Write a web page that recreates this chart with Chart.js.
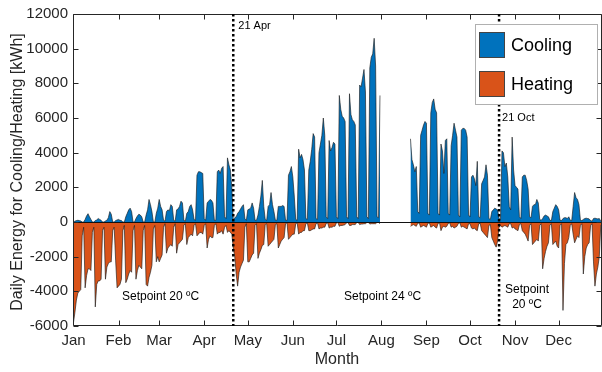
<!DOCTYPE html>
<html><head><meta charset="utf-8">
<script src="https://cdn.jsdelivr.net/npm/chart.js@4/dist/chart.umd.min.js"></script>
<style>html,body{margin:0;padding:0;background:#fff;overflow:hidden;}#wrap{width:602px;height:372px;position:relative;}</style>
</head><body><div id="wrap"><canvas id="c" width="602" height="372"></canvas></div>
<script>
const monthNames = ['Jan','Feb','Mar','Apr','May','Jun','Jul','Aug','Sep','Oct','Nov','Dec'];
const monthStartDays = [1,32,60,91,121,152,182,213,244,274,305,335];
const yTicks = [-6000,-4000,-2000,0,2000,4000,6000,8000,10000,12000];

// Daily cooling energy [kWh] per month (null = no data)
const coolJan = [0,50,80,100,80,60,0, 0,150,350,480,300,150,0, 0,80,120,200,150,100,0, 0,60,100,250,600,450,0, 0,80,120];
const coolFeb = [150,100,80,0,0,300,500,700,800,600,0,0,200,350,450,400,300,0,0,400,700,1300,1000,600,0,0,500,800];
const coolMar = [1300,900,700,100,50,600,700,650,1000,900,100,50,700,750,900,1200,1100,100,50,500,600,900,1000,700,150,100,2700,2900,2900,2850,2800];
const coolApr = [200,100,1100,1200,1300,1250,1100,100,100,2900,3000,2800,3100,3200,300,200,3700,3300,3000,2000,100,250,300,500,600,750,900,1000,200,100];
const coolMay = [700,750,800,1100,800,100,100,400,900,1500,2400,900,150,100,900,1000,1700,1000,600,100,100,900,900,900,950,900,100,100,2700,2900,3200];
const coolJun = [2600,1500,150,100,4200,3700,3900,3600,3000,200,150,3000,3500,4200,5100,4900,200,150,4000,4500,5000,6000,5000,300,200,4700,4100,4300,4600,4500];
const coolJul = [300,200,7300,6500,6100,6000,5800,300,200,7400,6200,5900,5800,5600,300,200,7900,7800,8300,8800,7500,300,200,8900,9500,9700,10600,9000,300,250,7300];
const coolAug = [null,null,null,null,null,null,null,null,null,null,null,null,null,null,null,null,null,null,null,null,4800,3600,3300,2900,3200,600,500,5000,5300,5600,5800];
const coolSep = [5700,500,400,6300,6900,7100,6500,6300,500,400,4500,4100,2800,4700,4800,500,400,4400,5000,5700,5300,4900,400,300,5300,5400,5400,5300,4900,400];
const coolOct = [300,2600,2700,2500,2100,3500,300,250,2200,2400,2600,3300,2700,200,150,600,700,800,750,700,200,150,4100,4000,3200,3400,2600,900,700,4900,3000];
const coolNov = [2100,2000,1900,300,200,2600,2700,2700,2400,1900,300,250,900,1000,1000,1300,1100,150,100,200,350,400,350,300,100,80,600,800,1000,900];
const coolDec = [700,100,80,200,250,250,200,300,100,80,900,1700,1400,1300,1000,100,80,150,200,220,200,180,80,50,200,220,200,180,200,50,30];

// Daily heating energy [kWh] per month (negative values)
const heatJan = [-5800,-5200,-4500,-4100,-4000,-3900,-800,-300,-3800,-3100,-2700,-2700,-2800,-600,-300,-4900,-3600,-3400,-3400,-3300,-500,-300,-3300,-2600,-2400,-2300,-2300,-500,-300,-2200,-3800];
const heatFeb = [-3700,-3600,-3300,-500,-200,-3500,-3300,-3000,-2800,-2900,-500,-200,-3300,-2800,-2500,-2600,-2700,-500,-200,-3600,-3700,-3200,-2900,-2500,-400,-200,-2300,-2000];
const heatMar = [-2300,-2100,-1900,-300,-100,-1800,-1500,-1400,-1300,-1400,-300,-100,-1800,-1300,-1200,-1100,-1000,-200,-100,-1300,-900,-800,-700,-800,-200,-100,-800,-700,-600,-600,-700];
const heatApr = [-200,-100,-1500,-1000,-800,-900,-900,-200,-100,-700,-600,-600,-500,-700,-300,-200,-600,-500,-600,-700,-1500,-2000,-3000,-3700,-2900,-2600,-2400,-2200,-300,-100];
const heatMay = [-2300,-2300,-2100,-1900,-1800,-200,-100,-2100,-1800,-1600,-1350,-1300,-150,-100,-1400,-1300,-1200,-1100,-1000,-150,-100,-1500,-1300,-1100,-1000,-900,-100,-50,-1000,-900,-800];
const heatJun = [-700,-700,-100,-50,-700,-600,-600,-500,-500,-100,-50,-500,-500,-450,-400,-400,-100,-50,-400,-350,-350,-300,-300,-80,-50,-350,-300,-300,-250,-250];
const heatJul = [-50,-30,-250,-200,-200,-180,-150,-50,-30,-200,-200,-150,-150,-150,-30,-20,-150,-120,-120,-100,-100,-30,-20,-120,-100,-100,-100,-100,-20,-20,-100];
const heatAug = [null,null,null,null,null,null,null,null,null,null,null,null,null,null,null,null,null,null,null,null,-250,-200,-150,-200,-250,-80,-50,-300,-250,-200,-250];
const heatSep = [-300,-80,-50,-300,-250,-200,-300,-350,-80,-50,-500,-300,-250,-300,-250,-80,-50,-300,-250,-350,-300,-250,-80,-50,-300,-250,-300,-350,-400,-100];
const heatOct = [-100,-350,-400,-350,-450,-500,-100,-80,-500,-600,-700,-800,-900,-200,-150,-900,-1100,-1300,-1450,-1100,-300,-200,-300,-250,-200,-250,-300,-100,-100,-350,-300];
const heatNov = [-400,-450,-500,-150,-100,-500,-600,-700,-900,-1100,-200,-100,-1300,-1200,-1100,-1000,-1100,-200,-100,-2700,-2100,-1700,-1400,-1200,-200,-100,-1300,-1200,-1100,-1400];
const heatDec = [-1500,-200,-100,-5100,-2400,-1300,-1200,-900,-200,-100,-700,-1200,-1000,-800,-900,-200,-100,-3000,-2000,-1500,-1300,-1200,-200,-100,-2300,-3700,-3000,-2600,-2000,-200,-100];

const cooling = [].concat(coolJan,coolFeb,coolMar,coolApr,coolMay,coolJun,coolJul,coolAug,coolSep,coolOct,coolNov,coolDec);
const heating = [].concat(heatJan,heatFeb,heatMar,heatApr,heatMay,heatJun,heatJul,heatAug,heatSep,heatOct,heatNov,heatDec);
const dayNumbers = cooling.map((_, i) => i + 1);

const markerDays = [111, 294];
const markerLabels = ['21 Apr', '21 Oct'];
const seriesNames = ['Cooling', 'Heating'];
const seriesColors = ['#0072BD', '#D95319'];

const FONT = '"Liberation Sans", Arial, Helvetica, sans-serif';
const TXT = '#262626';

const deco = {
  id: 'deco',
  afterDatasetsDraw(chart) {
    const {ctx, chartArea: a, scales: {x, y}} = chart;
    ctx.save();
    const y0 = Math.round(y.getPixelForValue(0)) + 0.5;
    ctx.strokeStyle = '#111'; ctx.lineWidth = 1;
    ctx.beginPath(); ctx.moveTo(a.left, y0); ctx.lineTo(a.right, y0); ctx.stroke();
    ctx.strokeStyle = '#262626'; ctx.lineWidth = 1;
    const L = Math.round(a.left) + 0.5, R = Math.round(a.right) - 0.5, T = Math.round(a.top) + 0.5, B = Math.round(a.bottom) - 0.5;
    ctx.beginPath(); ctx.moveTo(L, T); ctx.lineTo(L, B); ctx.lineTo(R, B); ctx.lineTo(R, T); ctx.closePath(); ctx.stroke();
    ctx.beginPath();
    monthStartDays.forEach(d => { const px = Math.round(x.getPixelForValue(d)) + 0.5; ctx.moveTo(px, B); ctx.lineTo(px, B - 5); ctx.moveTo(px, T); ctx.lineTo(px, T + 5); });
    yTicks.forEach(v => { const py = Math.round(y.getPixelForValue(v)) + 0.5; ctx.moveTo(L, py); ctx.lineTo(L + 5, py); ctx.moveTo(R, py); ctx.lineTo(R - 5, py); });
    ctx.stroke();
    ctx.strokeStyle = '#000'; ctx.lineWidth = 2.5; ctx.setLineDash([2.5, 2.5]);
    markerDays.forEach(d => { const px = x.getPixelForValue(d); ctx.beginPath(); ctx.moveTo(px, a.top); ctx.lineTo(px, a.bottom); ctx.stroke(); });
    ctx.setLineDash([]);
    ctx.fillStyle = '#000'; ctx.textBaseline = 'middle';
    ctx.font = '11px ' + FONT; ctx.textAlign = 'left';
    ctx.fillText(markerLabels[0], x.getPixelForValue(markerDays[0]) + 5, 26);
    ctx.fillText(markerLabels[1], x.getPixelForValue(markerDays[1]) + 3, 118);
    ctx.font = '12px ' + FONT;
    ctx.fillText('Setpoint 20 ºC', 122, 297);
    ctx.fillText('Setpoint 24 ºC', 344, 297);
    ctx.textAlign = 'center';
    ctx.fillText('Setpoint', 527, 290);
    ctx.fillText('20 ºC', 527, 305);
    const lx = 475, ly = 24, lw = 123, lh = 81;
    ctx.fillStyle = '#fff'; ctx.fillRect(lx, ly, lw, lh);
    ctx.strokeStyle = '#b0b0b0'; ctx.lineWidth = 1; ctx.strokeRect(lx + 0.5, ly + 0.5, lw - 1, lh - 1);
    ctx.font = '18px ' + FONT; ctx.textAlign = 'left';
    seriesNames.forEach((n, i) => {
      const py = ly + 8 + i * 39;
      ctx.fillStyle = seriesColors[i]; ctx.fillRect(lx + 4, py, 26, 26);
      ctx.strokeStyle = '#444'; ctx.strokeRect(lx + 4.5, py + 0.5, 25, 25);
      ctx.fillStyle = '#000'; ctx.fillText(n, lx + 36, py + 14);
    });
    ctx.fillStyle = TXT; ctx.font = '16px ' + FONT; ctx.textAlign = 'center';
    ctx.fillText('Month', 337, 360);
    ctx.translate(18, 172); ctx.rotate(-Math.PI / 2);
    ctx.fillText('Daily Energy for Cooling/Heating [kWh]', 0, 0);
    ctx.restore();
  }
};

new Chart(document.getElementById('c'), {
  type: 'line',
  data: { datasets: [
    { label: seriesNames[0], data: dayNumbers.map((d, i) => ({x: d, y: cooling[i]})), fill: 'origin', backgroundColor: seriesColors[0], borderColor: 'rgba(25,25,25,0.9)', borderWidth: 0.7, pointRadius: 0, tension: 0, spanGaps: false },
    { label: seriesNames[1], data: dayNumbers.map((d, i) => ({x: d, y: heating[i]})), fill: 'origin', backgroundColor: seriesColors[1], borderColor: 'rgba(25,25,25,0.9)', borderWidth: 0.7, pointRadius: 0, tension: 0, spanGaps: false }
  ]},
  options: {
    responsive: false, animation: false, devicePixelRatio: 1,
    layout: { padding: { left: 0, right: -2, top: 7, bottom: 0 } },
    plugins: { legend: { display: false }, tooltip: { enabled: false } },
    scales: {
      x: { type: 'linear', min: 0.657, max: 364.86,
        afterFit(s) { s.height = 46; },
        afterBuildTicks(s) { s.ticks = monthStartDays.map(v => ({value: v})); },
        ticks: { autoSkip: false, maxRotation: 0, padding: 6, color: TXT, font: { family: FONT, size: 15 },
          callback: (v) => monthNames[monthStartDays.indexOf(v)] },
        grid: { display: false, drawTicks: false }, border: { display: false } },
      y: { min: -6000, max: 12000,
        afterFit(s) { s.width = 73; },
        afterBuildTicks(s) { s.ticks = yTicks.map(v => ({value: v})); },
        ticks: { padding: 5, color: TXT, font: { family: FONT, size: 15 }, callback: (v) => String(v) },
        grid: { display: false, drawTicks: false }, border: { display: false } }
    }
  },
  plugins: [deco]
});
</script></body></html>
